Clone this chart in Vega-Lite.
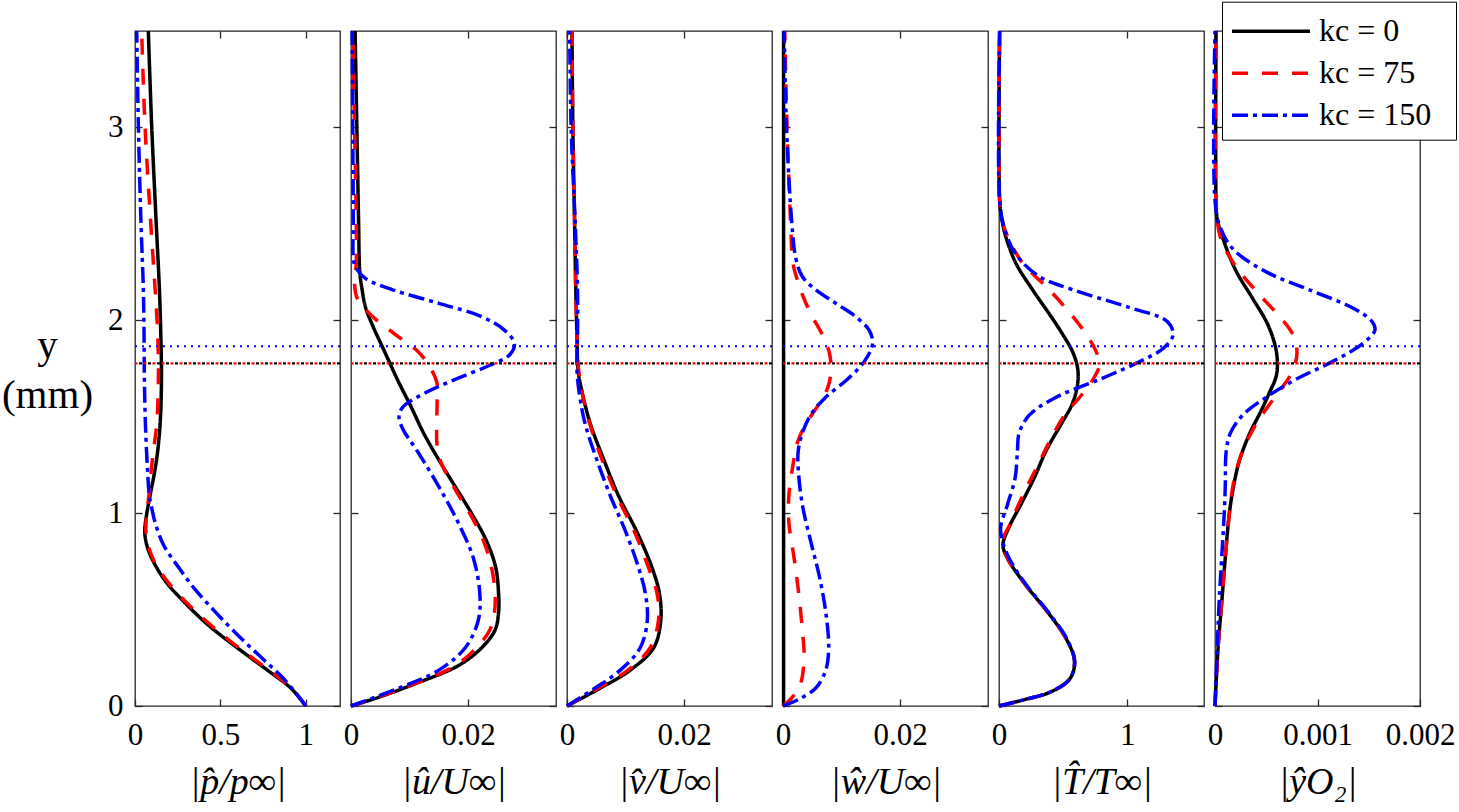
{
  "$schema": "https://vega.github.io/schema/vega-lite/v6.json",
  "padding": {"left": 0, "top": 0, "right": 0, "bottom": 0},
  "background": "white",
  "spacing": 11,
  "bounds": "flush",
  "resolve": {"scale": {"color": "independent", "strokeDash": "independent"}},
  "config": {
    "view": {"stroke": "#262626", "strokeWidth": 1.3},
    "font": "Liberation Serif",
    "axis": {
      "domain": false, "grid": false, "tickColor": "#262626", "tickSize": -7, "tickWidth": 1.3,
      "labelFont": "Liberation Serif", "labelFontSize": 31, "labelColor": "#000000",
      "labelFlush": false, "labelOverlap": false, "labelBound": false,
      "titleFont": "Liberation Serif", "titleFontSize": 38, "titleFontWeight": "normal", "titleColor": "#000000"
    }
  },
  "datasets": {
    "refs": [
      {"kc": "0", "yref": 1.777},
      {"kc": "75", "yref": 1.777},
      {"kc": "150", "yref": 1.865}
    ],
    "prof": [
      {"panel":"p","kc":"0","y":3.5,"v":0.078},{"panel":"p","kc":"0","y":3.0,"v":0.098},{"panel":"p","kc":"0","y":2.506,"v":0.124},{"panel":"p","kc":"0","y":2.158,"v":0.143},{"panel":"p","kc":"0","y":1.926,"v":0.151},{"panel":"p","kc":"0","y":1.694,"v":0.155},{"panel":"p","kc":"0","y":1.462,"v":0.147},{"panel":"p","kc":"0","y":1.323,"v":0.133},{"panel":"p","kc":"0","y":1.23,"v":0.118},{"panel":"p","kc":"0","y":1.09,"v":0.088},{"panel":"p","kc":"0","y":0.998,"v":0.069},{"panel":"p","kc":"0","y":0.905,"v":0.057},{"panel":"p","kc":"0","y":0.835,"v":0.069},{"panel":"p","kc":"0","y":0.766,"v":0.098},{"panel":"p","kc":"0","y":0.65,"v":0.176},{"panel":"p","kc":"0","y":0.534,"v":0.294},{"panel":"p","kc":"0","y":0.418,"v":0.431},{"panel":"p","kc":"0","y":0.302,"v":0.598},{"panel":"p","kc":"0","y":0.186,"v":0.775},{"panel":"p","kc":"0","y":0.093,"v":0.912},{"panel":"p","kc":"0","y":0,"v":1.0},
      {"panel":"p","kc":"75","y":3.5,"v":0.039},{"panel":"p","kc":"75","y":3.0,"v":0.059},{"panel":"p","kc":"75","y":2.506,"v":0.092},{"panel":"p","kc":"75","y":2.158,"v":0.118},{"panel":"p","kc":"75","y":1.926,"v":0.133},{"panel":"p","kc":"75","y":1.694,"v":0.137},{"panel":"p","kc":"75","y":1.462,"v":0.127},{"panel":"p","kc":"75","y":1.323,"v":0.108},{"panel":"p","kc":"75","y":1.23,"v":0.096},{"panel":"p","kc":"75","y":1.114,"v":0.084},{"panel":"p","kc":"75","y":1.044,"v":0.075},{"panel":"p","kc":"75","y":0.998,"v":0.068},{"panel":"p","kc":"75","y":0.882,"v":0.066},{"panel":"p","kc":"75","y":0.766,"v":0.104},{"panel":"p","kc":"75","y":0.65,"v":0.186},{"panel":"p","kc":"75","y":0.534,"v":0.304},{"panel":"p","kc":"75","y":0.418,"v":0.445},{"panel":"p","kc":"75","y":0.302,"v":0.608},{"panel":"p","kc":"75","y":0.186,"v":0.784},{"panel":"p","kc":"75","y":0.093,"v":0.915},{"panel":"p","kc":"75","y":0,"v":1.0},
      {"panel":"p","kc":"150","y":3.5,"v":0.01},{"panel":"p","kc":"150","y":3.0,"v":0.02},{"panel":"p","kc":"150","y":2.506,"v":0.035},{"panel":"p","kc":"150","y":2.158,"v":0.049},{"panel":"p","kc":"150","y":1.926,"v":0.053},{"panel":"p","kc":"150","y":1.694,"v":0.055},{"panel":"p","kc":"150","y":1.462,"v":0.061},{"panel":"p","kc":"150","y":1.23,"v":0.073},{"panel":"p","kc":"150","y":1.09,"v":0.084},{"panel":"p","kc":"150","y":1.044,"v":0.094},{"panel":"p","kc":"150","y":0.951,"v":0.118},{"panel":"p","kc":"150","y":0.835,"v":0.167},{"panel":"p","kc":"150","y":0.719,"v":0.255},{"panel":"p","kc":"150","y":0.603,"v":0.353},{"panel":"p","kc":"150","y":0.487,"v":0.471},{"panel":"p","kc":"150","y":0.371,"v":0.598},{"panel":"p","kc":"150","y":0.255,"v":0.735},{"panel":"p","kc":"150","y":0.139,"v":0.873},{"panel":"p","kc":"150","y":0,"v":1.0},

      {"panel":"u","kc":"0","y":3.5,"v":0.0007},{"panel":"u","kc":"0","y":3.0,"v":0.001},{"panel":"u","kc":"0","y":2.506,"v":0.0013},{"panel":"u","kc":"0","y":2.251,"v":0.0015},{"panel":"u","kc":"0","y":2.158,"v":0.0019},{"panel":"u","kc":"0","y":2.065,"v":0.0025},{"panel":"u","kc":"0","y":1.972,"v":0.0037},{"panel":"u","kc":"0","y":1.879,"v":0.0051},{"panel":"u","kc":"0","y":1.787,"v":0.0065},{"panel":"u","kc":"0","y":1.694,"v":0.0079},{"panel":"u","kc":"0","y":1.555,"v":0.0102},{"panel":"u","kc":"0","y":1.415,"v":0.0124},{"panel":"u","kc":"0","y":1.276,"v":0.015},{"panel":"u","kc":"0","y":1.137,"v":0.0178},{"panel":"u","kc":"0","y":0.998,"v":0.0206},{"panel":"u","kc":"0","y":0.858,"v":0.0231},{"panel":"u","kc":"0","y":0.719,"v":0.0247},{"panel":"u","kc":"0","y":0.58,"v":0.0252},{"panel":"u","kc":"0","y":0.487,"v":0.0252},{"panel":"u","kc":"0","y":0.394,"v":0.0246},{"panel":"u","kc":"0","y":0.302,"v":0.0223},{"panel":"u","kc":"0","y":0.209,"v":0.0183},{"panel":"u","kc":"0","y":0.116,"v":0.011},{"panel":"u","kc":"0","y":0.046,"v":0.0048},{"panel":"u","kc":"0","y":0,"v":0},
      {"panel":"u","kc":"75","y":3.5,"v":0.0003},{"panel":"u","kc":"75","y":3.0,"v":0.0006},{"panel":"u","kc":"75","y":2.506,"v":0.0009},{"panel":"u","kc":"75","y":2.297,"v":0.0009},{"panel":"u","kc":"75","y":2.204,"v":0.0006},{"panel":"u","kc":"75","y":2.111,"v":0.0011},{"panel":"u","kc":"75","y":2.019,"v":0.0037},{"panel":"u","kc":"75","y":1.926,"v":0.0076},{"panel":"u","kc":"75","y":1.833,"v":0.0116},{"panel":"u","kc":"75","y":1.74,"v":0.0138},{"panel":"u","kc":"75","y":1.671,"v":0.0147},{"panel":"u","kc":"75","y":1.578,"v":0.0147},{"panel":"u","kc":"75","y":1.346,"v":0.0147},{"panel":"u","kc":"75","y":1.276,"v":0.0152},{"panel":"u","kc":"75","y":1.137,"v":0.0175},{"panel":"u","kc":"75","y":0.998,"v":0.0203},{"panel":"u","kc":"75","y":0.858,"v":0.0226},{"panel":"u","kc":"75","y":0.719,"v":0.024},{"panel":"u","kc":"75","y":0.58,"v":0.0246},{"panel":"u","kc":"75","y":0.487,"v":0.0245},{"panel":"u","kc":"75","y":0.394,"v":0.0237},{"panel":"u","kc":"75","y":0.302,"v":0.0214},{"panel":"u","kc":"75","y":0.209,"v":0.0178},{"panel":"u","kc":"75","y":0.116,"v":0.011},{"panel":"u","kc":"75","y":0,"v":0},
      {"panel":"u","kc":"150","y":3.5,"v":0.0002},{"panel":"u","kc":"150","y":3.0,"v":0.0003},{"panel":"u","kc":"150","y":2.506,"v":0.0004},{"panel":"u","kc":"150","y":2.32,"v":0.0004},{"panel":"u","kc":"150","y":2.274,"v":0.0008},{"panel":"u","kc":"150","y":2.216,"v":0.0025},{"panel":"u","kc":"150","y":2.158,"v":0.0071},{"panel":"u","kc":"150","y":2.088,"v":0.015},{"panel":"u","kc":"150","y":2.019,"v":0.0223},{"panel":"u","kc":"150","y":1.949,"v":0.0262},{"panel":"u","kc":"150","y":1.879,"v":0.0279},{"panel":"u","kc":"150","y":1.821,"v":0.0271},{"panel":"u","kc":"150","y":1.763,"v":0.0234},{"panel":"u","kc":"150","y":1.694,"v":0.0178},{"panel":"u","kc":"150","y":1.624,"v":0.0127},{"panel":"u","kc":"150","y":1.555,"v":0.009},{"panel":"u","kc":"150","y":1.508,"v":0.0082},{"panel":"u","kc":"150","y":1.439,"v":0.0088},{"panel":"u","kc":"150","y":1.323,"v":0.0113},{"panel":"u","kc":"150","y":1.137,"v":0.015},{"panel":"u","kc":"150","y":0.951,"v":0.0183},{"panel":"u","kc":"150","y":0.766,"v":0.0209},{"panel":"u","kc":"150","y":0.58,"v":0.022},{"panel":"u","kc":"150","y":0.441,"v":0.0217},{"panel":"u","kc":"150","y":0.302,"v":0.0195},{"panel":"u","kc":"150","y":0.186,"v":0.015},{"panel":"u","kc":"150","y":0.093,"v":0.0082},{"panel":"u","kc":"150","y":0,"v":0},

      {"panel":"v","kc":"0","y":3.5,"v":0.00085},{"panel":"v","kc":"0","y":3.0,"v":0.001},{"panel":"v","kc":"0","y":2.506,"v":0.0013},{"panel":"v","kc":"0","y":2.158,"v":0.0015},{"panel":"v","kc":"0","y":1.926,"v":0.0017},{"panel":"v","kc":"0","y":1.74,"v":0.0019},{"panel":"v","kc":"0","y":1.624,"v":0.0026},{"panel":"v","kc":"0","y":1.462,"v":0.004},{"panel":"v","kc":"0","y":1.276,"v":0.0063},{"panel":"v","kc":"0","y":1.09,"v":0.0088},{"panel":"v","kc":"0","y":0.905,"v":0.0119},{"panel":"v","kc":"0","y":0.719,"v":0.0145},{"panel":"v","kc":"0","y":0.58,"v":0.0158},{"panel":"v","kc":"0","y":0.441,"v":0.016},{"panel":"v","kc":"0","y":0.302,"v":0.0148},{"panel":"v","kc":"0","y":0.186,"v":0.0108},{"panel":"v","kc":"0","y":0.093,"v":0.0057},{"panel":"v","kc":"0","y":0,"v":0},
      {"panel":"v","kc":"75","y":3.5,"v":0.00085},{"panel":"v","kc":"75","y":3.0,"v":0.001},{"panel":"v","kc":"75","y":2.506,"v":0.0013},{"panel":"v","kc":"75","y":2.158,"v":0.0015},{"panel":"v","kc":"75","y":1.926,"v":0.0017},{"panel":"v","kc":"75","y":1.74,"v":0.002},{"panel":"v","kc":"75","y":1.624,"v":0.0026},{"panel":"v","kc":"75","y":1.462,"v":0.0039},{"panel":"v","kc":"75","y":1.276,"v":0.006},{"panel":"v","kc":"75","y":1.09,"v":0.0085},{"panel":"v","kc":"75","y":0.905,"v":0.0115},{"panel":"v","kc":"75","y":0.719,"v":0.0139},{"panel":"v","kc":"75","y":0.58,"v":0.0154},{"panel":"v","kc":"75","y":0.441,"v":0.0156},{"panel":"v","kc":"75","y":0.302,"v":0.0142},{"panel":"v","kc":"75","y":0.186,"v":0.0104},{"panel":"v","kc":"75","y":0.093,"v":0.0054},{"panel":"v","kc":"75","y":0,"v":0},
      {"panel":"v","kc":"150","y":3.5,"v":0.00046},{"panel":"v","kc":"150","y":3.0,"v":0.0007},{"panel":"v","kc":"150","y":2.506,"v":0.0014},{"panel":"v","kc":"150","y":2.158,"v":0.0018},{"panel":"v","kc":"150","y":1.926,"v":0.0018},{"panel":"v","kc":"150","y":1.74,"v":0.0017},{"panel":"v","kc":"150","y":1.601,"v":0.0022},{"panel":"v","kc":"150","y":1.462,"v":0.0031},{"panel":"v","kc":"150","y":1.276,"v":0.0051},{"panel":"v","kc":"150","y":1.09,"v":0.0074},{"panel":"v","kc":"150","y":0.905,"v":0.01},{"panel":"v","kc":"150","y":0.719,"v":0.0122},{"panel":"v","kc":"150","y":0.58,"v":0.0134},{"panel":"v","kc":"150","y":0.441,"v":0.0137},{"panel":"v","kc":"150","y":0.302,"v":0.0125},{"panel":"v","kc":"150","y":0.186,"v":0.0091},{"panel":"v","kc":"150","y":0.093,"v":0.0048},{"panel":"v","kc":"150","y":0,"v":0},

      {"panel":"w","kc":"0","y":3.5,"v":0.0001},{"panel":"w","kc":"0","y":1.9,"v":0.0001},{"panel":"w","kc":"0","y":0,"v":0.0001},
      {"panel":"w","kc":"75","y":3.5,"v":0.0003},{"panel":"w","kc":"75","y":3.0,"v":0.0007},{"panel":"w","kc":"75","y":2.506,"v":0.0013},{"panel":"w","kc":"75","y":2.297,"v":0.0017},{"panel":"w","kc":"75","y":2.204,"v":0.0025},{"panel":"w","kc":"75","y":2.111,"v":0.0036},{"panel":"w","kc":"75","y":2.019,"v":0.005},{"panel":"w","kc":"75","y":1.926,"v":0.0067},{"panel":"w","kc":"75","y":1.833,"v":0.0079},{"panel":"w","kc":"75","y":1.74,"v":0.0082},{"panel":"w","kc":"75","y":1.647,"v":0.0076},{"panel":"w","kc":"75","y":1.555,"v":0.0059},{"panel":"w","kc":"75","y":1.462,"v":0.0039},{"panel":"w","kc":"75","y":1.369,"v":0.0025},{"panel":"w","kc":"75","y":1.23,"v":0.0016},{"panel":"w","kc":"75","y":1.09,"v":0.001},{"panel":"w","kc":"75","y":0.951,"v":0.001},{"panel":"w","kc":"75","y":0.766,"v":0.0019},{"panel":"w","kc":"75","y":0.58,"v":0.0027},{"panel":"w","kc":"75","y":0.394,"v":0.0033},{"panel":"w","kc":"75","y":0.255,"v":0.0036},{"panel":"w","kc":"75","y":0.116,"v":0.003},{"panel":"w","kc":"75","y":0.046,"v":0.0016},{"panel":"w","kc":"75","y":0,"v":0},
      {"panel":"w","kc":"150","y":3.5,"v":0.0002},{"panel":"w","kc":"150","y":3.0,"v":0.0006},{"panel":"w","kc":"150","y":2.506,"v":0.0015},{"panel":"w","kc":"150","y":2.32,"v":0.0022},{"panel":"w","kc":"150","y":2.227,"v":0.0033},{"panel":"w","kc":"150","y":2.158,"v":0.0056},{"panel":"w","kc":"150","y":2.088,"v":0.009},{"panel":"w","kc":"150","y":2.019,"v":0.0124},{"panel":"w","kc":"150","y":1.949,"v":0.0147},{"panel":"w","kc":"150","y":1.879,"v":0.0153},{"panel":"w","kc":"150","y":1.787,"v":0.0139},{"panel":"w","kc":"150","y":1.694,"v":0.011},{"panel":"w","kc":"150","y":1.601,"v":0.0073},{"panel":"w","kc":"150","y":1.508,"v":0.0047},{"panel":"w","kc":"150","y":1.415,"v":0.0033},{"panel":"w","kc":"150","y":1.323,"v":0.0026},{"panel":"w","kc":"150","y":1.23,"v":0.0026},{"panel":"w","kc":"150","y":1.044,"v":0.0033},{"panel":"w","kc":"150","y":0.858,"v":0.0047},{"panel":"w","kc":"150","y":0.673,"v":0.0062},{"panel":"w","kc":"150","y":0.487,"v":0.0073},{"panel":"w","kc":"150","y":0.302,"v":0.0078},{"panel":"w","kc":"150","y":0.186,"v":0.0073},{"panel":"w","kc":"150","y":0.093,"v":0.0056},{"panel":"w","kc":"150","y":0.035,"v":0.0027},{"panel":"w","kc":"150","y":0,"v":0},

      {"panel":"T","kc":"0","y":3.5,"v":0.005},{"panel":"T","kc":"0","y":2.622,"v":0.005},{"panel":"T","kc":"0","y":2.529,"v":0.021},{"panel":"T","kc":"0","y":2.436,"v":0.052},{"panel":"T","kc":"0","y":2.297,"v":0.131},{"panel":"T","kc":"0","y":2.158,"v":0.262},{"panel":"T","kc":"0","y":2.019,"v":0.407},{"panel":"T","kc":"0","y":1.926,"v":0.498},{"panel":"T","kc":"0","y":1.833,"v":0.577},{"panel":"T","kc":"0","y":1.74,"v":0.616},{"panel":"T","kc":"0","y":1.647,"v":0.608},{"panel":"T","kc":"0","y":1.555,"v":0.564},{"panel":"T","kc":"0","y":1.462,"v":0.485},{"panel":"T","kc":"0","y":1.323,"v":0.367},{"panel":"T","kc":"0","y":1.183,"v":0.275},{"panel":"T","kc":"0","y":1.044,"v":0.17},{"panel":"T","kc":"0","y":0.928,"v":0.079},{"panel":"T","kc":"0","y":0.835,"v":0.031},{"panel":"T","kc":"0","y":0.766,"v":0.066},{"panel":"T","kc":"0","y":0.626,"v":0.21},{"panel":"T","kc":"0","y":0.487,"v":0.38},{"panel":"T","kc":"0","y":0.348,"v":0.525},{"panel":"T","kc":"0","y":0.232,"v":0.59},{"panel":"T","kc":"0","y":0.139,"v":0.551},{"panel":"T","kc":"0","y":0.07,"v":0.393},{"panel":"T","kc":"0","y":0.035,"v":0.21},{"panel":"T","kc":"0","y":0,"v":0},
      {"panel":"T","kc":"75","y":3.5,"v":0.005},{"panel":"T","kc":"75","y":2.622,"v":0.005},{"panel":"T","kc":"75","y":2.529,"v":0.021},{"panel":"T","kc":"75","y":2.436,"v":0.066},{"panel":"T","kc":"75","y":2.297,"v":0.184},{"panel":"T","kc":"75","y":2.158,"v":0.393},{"panel":"T","kc":"75","y":2.019,"v":0.577},{"panel":"T","kc":"75","y":1.926,"v":0.682},{"panel":"T","kc":"75","y":1.833,"v":0.761},{"panel":"T","kc":"75","y":1.763,"v":0.782},{"panel":"T","kc":"75","y":1.694,"v":0.734},{"panel":"T","kc":"75","y":1.601,"v":0.63},{"panel":"T","kc":"75","y":1.508,"v":0.511},{"panel":"T","kc":"75","y":1.369,"v":0.393},{"panel":"T","kc":"75","y":1.23,"v":0.289},{"panel":"T","kc":"75","y":1.09,"v":0.184},{"panel":"T","kc":"75","y":0.951,"v":0.092},{"panel":"T","kc":"75","y":0.858,"v":0.031},{"panel":"T","kc":"75","y":0.766,"v":0.066},{"panel":"T","kc":"75","y":0.626,"v":0.21},{"panel":"T","kc":"75","y":0.487,"v":0.38},{"panel":"T","kc":"75","y":0.348,"v":0.525},{"panel":"T","kc":"75","y":0.232,"v":0.59},{"panel":"T","kc":"75","y":0.139,"v":0.551},{"panel":"T","kc":"75","y":0.07,"v":0.393},{"panel":"T","kc":"75","y":0.035,"v":0.21},{"panel":"T","kc":"75","y":0,"v":0},
      {"panel":"T","kc":"150","y":3.5,"v":0.005},{"panel":"T","kc":"150","y":2.622,"v":0.005},{"panel":"T","kc":"150","y":2.483,"v":0.039},{"panel":"T","kc":"150","y":2.343,"v":0.131},{"panel":"T","kc":"150","y":2.227,"v":0.315},{"panel":"T","kc":"150","y":2.158,"v":0.577},{"panel":"T","kc":"150","y":2.065,"v":1.023},{"panel":"T","kc":"150","y":1.995,"v":1.311},{"panel":"T","kc":"150","y":1.926,"v":1.359},{"panel":"T","kc":"150","y":1.856,"v":1.285},{"panel":"T","kc":"150","y":1.787,"v":1.102},{"panel":"T","kc":"150","y":1.694,"v":0.787},{"panel":"T","kc":"150","y":1.601,"v":0.446},{"panel":"T","kc":"150","y":1.508,"v":0.236},{"panel":"T","kc":"150","y":1.415,"v":0.157},{"panel":"T","kc":"150","y":1.323,"v":0.144},{"panel":"T","kc":"150","y":1.183,"v":0.126},{"panel":"T","kc":"150","y":1.044,"v":0.066},{"panel":"T","kc":"150","y":0.928,"v":0.013},{"panel":"T","kc":"150","y":0.858,"v":0.026},{"panel":"T","kc":"150","y":0.766,"v":0.079},{"panel":"T","kc":"150","y":0.626,"v":0.215},{"panel":"T","kc":"150","y":0.487,"v":0.385},{"panel":"T","kc":"150","y":0.348,"v":0.53},{"panel":"T","kc":"150","y":0.232,"v":0.59},{"panel":"T","kc":"150","y":0.139,"v":0.55},{"panel":"T","kc":"150","y":0.07,"v":0.393},{"panel":"T","kc":"150","y":0.035,"v":0.21},{"panel":"T","kc":"150","y":0,"v":0},

      {"panel":"o","kc":"0","y":3.5,"v":0.00001},{"panel":"o","kc":"0","y":2.622,"v":0.00001},{"panel":"o","kc":"0","y":2.529,"v":0.00002},{"panel":"o","kc":"0","y":2.39,"v":0.0001},{"panel":"o","kc":"0","y":2.251,"v":0.00021},{"panel":"o","kc":"0","y":2.111,"v":0.00037},{"panel":"o","kc":"0","y":1.972,"v":0.00052},{"panel":"o","kc":"0","y":1.833,"v":0.0006},{"panel":"o","kc":"0","y":1.717,"v":0.0006},{"panel":"o","kc":"0","y":1.624,"v":0.00053},{"panel":"o","kc":"0","y":1.531,"v":0.00045},{"panel":"o","kc":"0","y":1.415,"v":0.00034},{"panel":"o","kc":"0","y":1.276,"v":0.00024},{"panel":"o","kc":"0","y":1.137,"v":0.00018},{"panel":"o","kc":"0","y":0.998,"v":0.00014},{"panel":"o","kc":"0","y":0.766,"v":0.0001},{"panel":"o","kc":"0","y":0.534,"v":0.000065},{"panel":"o","kc":"0","y":0.302,"v":0.00003},{"panel":"o","kc":"0","y":0,"v":0},
      {"panel":"o","kc":"75","y":3.5,"v":0.00001},{"panel":"o","kc":"75","y":2.622,"v":0.00001},{"panel":"o","kc":"75","y":2.436,"v":0.00005},{"panel":"o","kc":"75","y":2.297,"v":0.00018},{"panel":"o","kc":"75","y":2.158,"v":0.00039},{"panel":"o","kc":"75","y":2.019,"v":0.00063},{"panel":"o","kc":"75","y":1.926,"v":0.00076},{"panel":"o","kc":"75","y":1.833,"v":0.0008},{"panel":"o","kc":"75","y":1.74,"v":0.00076},{"panel":"o","kc":"75","y":1.647,"v":0.00065},{"panel":"o","kc":"75","y":1.555,"v":0.00052},{"panel":"o","kc":"75","y":1.462,"v":0.0004},{"panel":"o","kc":"75","y":1.323,"v":0.00027},{"panel":"o","kc":"75","y":1.183,"v":0.00019},{"panel":"o","kc":"75","y":0.998,"v":0.00014},{"panel":"o","kc":"75","y":0.766,"v":0.0001},{"panel":"o","kc":"75","y":0.534,"v":0.000065},{"panel":"o","kc":"75","y":0.302,"v":0.00003},{"panel":"o","kc":"75","y":0,"v":0},
      {"panel":"o","kc":"150","y":3.5,"v":0.0},{"panel":"o","kc":"150","y":2.622,"v":0.0},{"panel":"o","kc":"150","y":2.483,"v":0.00005},{"panel":"o","kc":"150","y":2.367,"v":0.00018},{"panel":"o","kc":"150","y":2.251,"v":0.0005},{"panel":"o","kc":"150","y":2.158,"v":0.00092},{"panel":"o","kc":"150","y":2.065,"v":0.00134},{"panel":"o","kc":"150","y":1.995,"v":0.00153},{"panel":"o","kc":"150","y":1.949,"v":0.00156},{"panel":"o","kc":"150","y":1.879,"v":0.00144},{"panel":"o","kc":"150","y":1.787,"v":0.00115},{"panel":"o","kc":"150","y":1.694,"v":0.00079},{"panel":"o","kc":"150","y":1.601,"v":0.0005},{"panel":"o","kc":"150","y":1.508,"v":0.00027},{"panel":"o","kc":"150","y":1.415,"v":0.00015},{"panel":"o","kc":"150","y":1.323,"v":0.00011},{"panel":"o","kc":"150","y":1.137,"v":0.0001},{"panel":"o","kc":"150","y":0.998,"v":0.00009},{"panel":"o","kc":"150","y":0.766,"v":0.000065},{"panel":"o","kc":"150","y":0.534,"v":0.00004},{"panel":"o","kc":"150","y":0,"v":0}
    ]
  },
  "hconcat": [
    {
      "width": 205, "height": 675,
      "resolve": {"axis": {"x": "independent", "y": "independent"}},
      "layer": [
        {"data": {"name": "prof"}, "transform": [{"filter": "datum.panel === 'p' && datum.kc === '0'"}],
         "mark": {"type": "line", "strokeWidth": 3.5, "interpolate": "catmull-rom"},
         "encoding": {
           "x": {"field": "v", "type": "quantitative", "scale": {"domain": [0, 1.2], "nice": false}, "axis": {"orient": "bottom", "values": [0, 0.5, 1], "format": "~g", "labelPadding": 21, "title": "|p\u0302/p\u221e|", "titlePadding": 13, "titleFontStyle": "italic"}},
           "y": {"field": "y", "type": "quantitative", "scale": {"domain": [0, 3.5], "nice": false}, "axis": {"orient": "left", "values": [0, 1, 2, 3], "format": "~g", "labelPadding": 19, "title": ["y", "(mm)"], "titleAngle": 0, "titleX": -88, "titleY": 326, "titleAlign": "center", "titleBaseline": "alphabetic", "titleFontSize": 41, "titleLineHeight": 50}},
           "order": {"field": "y", "type": "quantitative"},
           "color": {"field": "kc", "type": "nominal", "scale": {"domain": ["0", "75", "150"], "range": ["#000000", "#ff0000", "#0000ff"]}, "legend": null},
           "strokeDash": {"field": "kc", "type": "nominal", "scale": {"domain": ["0", "75", "150"], "range": [[1, 0], [16, 14], [16, 5, 4, 5]]}, "legend": null}
         }},
        {"data": {"name": "prof"}, "transform": [{"filter": "datum.panel === 'p' && datum.kc !== '0'"}],
         "mark": {"type": "line", "strokeWidth": 3.5, "interpolate": "catmull-rom"},
         "encoding": {
           "x": {"field": "v", "type": "quantitative", "axis": {"orient": "top", "values": [0, 0.5, 1], "labels": false, "title": null}},
           "y": {"field": "y", "type": "quantitative", "axis": {"orient": "right", "values": [0, 1, 2, 3], "labels": false, "title": null}},
           "order": {"field": "y", "type": "quantitative"},
           "color": {"field": "kc", "type": "nominal", "legend": null},
           "strokeDash": {"field": "kc", "type": "nominal", "legend": null}
         }},
        {"data": {"name": "refs"}, "transform": [{"filter": "datum.kc === '0'"}],
         "mark": {"type": "rule", "color": "#000000", "strokeWidth": 2.2, "strokeDash": [3, 6]},
         "encoding": {"y": {"field": "yref", "type": "quantitative", "axis": null}}},
        {"data": {"name": "refs"}, "transform": [{"filter": "datum.kc === '75'"}],
         "mark": {"type": "rule", "color": "#ff0000", "strokeWidth": 2.2, "strokeDash": [3, 6], "strokeDashOffset": 4.5},
         "encoding": {"y": {"field": "yref", "type": "quantitative", "axis": null}}},
        {"data": {"name": "refs"}, "transform": [{"filter": "datum.kc === '150'"}],
         "mark": {"type": "rule", "color": "#0000ff", "strokeWidth": 2, "strokeDash": [2, 5]},
         "encoding": {"y": {"field": "yref", "type": "quantitative", "axis": null}}}
      ]
    },
    {
      "width": 205, "height": 675,
      "resolve": {"axis": {"x": "independent", "y": "independent"}},
      "layer": [
        {"data": {"name": "prof"}, "transform": [{"filter": "datum.panel === 'u' && datum.kc === '0'"}],
         "mark": {"type": "line", "strokeWidth": 3.5, "interpolate": "catmull-rom"},
         "encoding": {
           "x": {"field": "v", "type": "quantitative", "scale": {"domain": [0, 0.035], "nice": false}, "axis": {"orient": "bottom", "values": [0, 0.02], "format": "~g", "labelPadding": 21, "title": "|\u00fb/U\u221e|", "titlePadding": 13, "titleFontStyle": "italic"}},
           "y": {"field": "y", "type": "quantitative", "scale": {"domain": [0, 3.5], "nice": false}, "axis": {"orient": "left", "values": [0, 1, 2, 3], "labels": false, "title": null}},
           "order": {"field": "y", "type": "quantitative"},
           "color": {"field": "kc", "type": "nominal", "scale": {"domain": ["0", "75", "150"], "range": ["#000000", "#ff0000", "#0000ff"]}, "legend": null},
           "strokeDash": {"field": "kc", "type": "nominal", "scale": {"domain": ["0", "75", "150"], "range": [[1, 0], [16, 14], [16, 5, 4, 5]]}, "legend": null}
         }},
        {"data": {"name": "prof"}, "transform": [{"filter": "datum.panel === 'u' && datum.kc !== '0'"}],
         "mark": {"type": "line", "strokeWidth": 3.5, "interpolate": "catmull-rom"},
         "encoding": {
           "x": {"field": "v", "type": "quantitative", "axis": {"orient": "top", "values": [0, 0.02], "labels": false, "title": null}},
           "y": {"field": "y", "type": "quantitative", "axis": {"orient": "right", "values": [0, 1, 2, 3], "labels": false, "title": null}},
           "order": {"field": "y", "type": "quantitative"},
           "color": {"field": "kc", "type": "nominal", "legend": null},
           "strokeDash": {"field": "kc", "type": "nominal", "legend": null}
         }},
        {"data": {"name": "refs"}, "transform": [{"filter": "datum.kc === '0'"}],
         "mark": {"type": "rule", "color": "#000000", "strokeWidth": 2.2, "strokeDash": [3, 6]},
         "encoding": {"y": {"field": "yref", "type": "quantitative", "axis": null}}},
        {"data": {"name": "refs"}, "transform": [{"filter": "datum.kc === '75'"}],
         "mark": {"type": "rule", "color": "#ff0000", "strokeWidth": 2.2, "strokeDash": [3, 6], "strokeDashOffset": 4.5},
         "encoding": {"y": {"field": "yref", "type": "quantitative", "axis": null}}},
        {"data": {"name": "refs"}, "transform": [{"filter": "datum.kc === '150'"}],
         "mark": {"type": "rule", "color": "#0000ff", "strokeWidth": 2, "strokeDash": [2, 5]},
         "encoding": {"y": {"field": "yref", "type": "quantitative", "axis": null}}}
      ]
    },
    {
      "width": 205, "height": 675,
      "resolve": {"axis": {"x": "independent", "y": "independent"}},
      "layer": [
        {"data": {"name": "prof"}, "transform": [{"filter": "datum.panel === 'v' && datum.kc === '0'"}],
         "mark": {"type": "line", "strokeWidth": 3.5, "interpolate": "catmull-rom"},
         "encoding": {
           "x": {"field": "v", "type": "quantitative", "scale": {"domain": [0, 0.035], "nice": false}, "axis": {"orient": "bottom", "values": [0, 0.02], "format": "~g", "labelPadding": 21, "title": "|v\u0302/U\u221e|", "titlePadding": 13, "titleFontStyle": "italic"}},
           "y": {"field": "y", "type": "quantitative", "scale": {"domain": [0, 3.5], "nice": false}, "axis": {"orient": "left", "values": [0, 1, 2, 3], "labels": false, "title": null}},
           "order": {"field": "y", "type": "quantitative"},
           "color": {"field": "kc", "type": "nominal", "scale": {"domain": ["0", "75", "150"], "range": ["#000000", "#ff0000", "#0000ff"]}, "legend": null},
           "strokeDash": {"field": "kc", "type": "nominal", "scale": {"domain": ["0", "75", "150"], "range": [[1, 0], [16, 14], [16, 5, 4, 5]]}, "legend": null}
         }},
        {"data": {"name": "prof"}, "transform": [{"filter": "datum.panel === 'v' && datum.kc !== '0'"}],
         "mark": {"type": "line", "strokeWidth": 3.5, "interpolate": "catmull-rom"},
         "encoding": {
           "x": {"field": "v", "type": "quantitative", "axis": {"orient": "top", "values": [0, 0.02], "labels": false, "title": null}},
           "y": {"field": "y", "type": "quantitative", "axis": {"orient": "right", "values": [0, 1, 2, 3], "labels": false, "title": null}},
           "order": {"field": "y", "type": "quantitative"},
           "color": {"field": "kc", "type": "nominal", "legend": null},
           "strokeDash": {"field": "kc", "type": "nominal", "legend": null}
         }},
        {"data": {"name": "refs"}, "transform": [{"filter": "datum.kc === '0'"}],
         "mark": {"type": "rule", "color": "#000000", "strokeWidth": 2.2, "strokeDash": [3, 6]},
         "encoding": {"y": {"field": "yref", "type": "quantitative", "axis": null}}},
        {"data": {"name": "refs"}, "transform": [{"filter": "datum.kc === '75'"}],
         "mark": {"type": "rule", "color": "#ff0000", "strokeWidth": 2.2, "strokeDash": [3, 6], "strokeDashOffset": 4.5},
         "encoding": {"y": {"field": "yref", "type": "quantitative", "axis": null}}},
        {"data": {"name": "refs"}, "transform": [{"filter": "datum.kc === '150'"}],
         "mark": {"type": "rule", "color": "#0000ff", "strokeWidth": 2, "strokeDash": [2, 5]},
         "encoding": {"y": {"field": "yref", "type": "quantitative", "axis": null}}}
      ]
    },
    {
      "width": 205, "height": 675,
      "resolve": {"axis": {"x": "independent", "y": "independent"}},
      "layer": [
        {"data": {"name": "prof"}, "transform": [{"filter": "datum.panel === 'w' && datum.kc === '0'"}],
         "mark": {"type": "line", "strokeWidth": 3.5, "interpolate": "catmull-rom"},
         "encoding": {
           "x": {"field": "v", "type": "quantitative", "scale": {"domain": [0, 0.035], "nice": false}, "axis": {"orient": "bottom", "values": [0, 0.02], "format": "~g", "labelPadding": 21, "title": "|\u0175/U\u221e|", "titlePadding": 13, "titleFontStyle": "italic"}},
           "y": {"field": "y", "type": "quantitative", "scale": {"domain": [0, 3.5], "nice": false}, "axis": {"orient": "left", "values": [0, 1, 2, 3], "labels": false, "title": null}},
           "order": {"field": "y", "type": "quantitative"},
           "color": {"field": "kc", "type": "nominal", "scale": {"domain": ["0", "75", "150"], "range": ["#000000", "#ff0000", "#0000ff"]}, "legend": null},
           "strokeDash": {"field": "kc", "type": "nominal", "scale": {"domain": ["0", "75", "150"], "range": [[1, 0], [16, 14], [16, 5, 4, 5]]}, "legend": null}
         }},
        {"data": {"name": "prof"}, "transform": [{"filter": "datum.panel === 'w' && datum.kc !== '0'"}],
         "mark": {"type": "line", "strokeWidth": 3.5, "interpolate": "catmull-rom"},
         "encoding": {
           "x": {"field": "v", "type": "quantitative", "axis": {"orient": "top", "values": [0, 0.02], "labels": false, "title": null}},
           "y": {"field": "y", "type": "quantitative", "axis": {"orient": "right", "values": [0, 1, 2, 3], "labels": false, "title": null}},
           "order": {"field": "y", "type": "quantitative"},
           "color": {"field": "kc", "type": "nominal", "legend": null},
           "strokeDash": {"field": "kc", "type": "nominal", "legend": null}
         }},
        {"data": {"name": "refs"}, "transform": [{"filter": "datum.kc === '0'"}],
         "mark": {"type": "rule", "color": "#000000", "strokeWidth": 2.2, "strokeDash": [3, 6]},
         "encoding": {"y": {"field": "yref", "type": "quantitative", "axis": null}}},
        {"data": {"name": "refs"}, "transform": [{"filter": "datum.kc === '75'"}],
         "mark": {"type": "rule", "color": "#ff0000", "strokeWidth": 2.2, "strokeDash": [3, 6], "strokeDashOffset": 4.5},
         "encoding": {"y": {"field": "yref", "type": "quantitative", "axis": null}}},
        {"data": {"name": "refs"}, "transform": [{"filter": "datum.kc === '150'"}],
         "mark": {"type": "rule", "color": "#0000ff", "strokeWidth": 2, "strokeDash": [2, 5]},
         "encoding": {"y": {"field": "yref", "type": "quantitative", "axis": null}}}
      ]
    },
    {
      "width": 205, "height": 675,
      "resolve": {"axis": {"x": "independent", "y": "independent"}},
      "layer": [
        {"data": {"name": "prof"}, "transform": [{"filter": "datum.panel === 'T' && datum.kc === '0'"}],
         "mark": {"type": "line", "strokeWidth": 3.5, "interpolate": "catmull-rom"},
         "encoding": {
           "x": {"field": "v", "type": "quantitative", "scale": {"domain": [0, 1.6], "nice": false}, "axis": {"orient": "bottom", "values": [0, 1], "format": "~g", "labelPadding": 21, "title": "|T\u0302/T\u221e|", "titlePadding": 13, "titleFontStyle": "italic"}},
           "y": {"field": "y", "type": "quantitative", "scale": {"domain": [0, 3.5], "nice": false}, "axis": {"orient": "left", "values": [0, 1, 2, 3], "labels": false, "title": null}},
           "order": {"field": "y", "type": "quantitative"},
           "color": {"field": "kc", "type": "nominal", "scale": {"domain": ["0", "75", "150"], "range": ["#000000", "#ff0000", "#0000ff"]}, "legend": null},
           "strokeDash": {"field": "kc", "type": "nominal", "scale": {"domain": ["0", "75", "150"], "range": [[1, 0], [16, 14], [16, 5, 4, 5]]}, "legend": null}
         }},
        {"data": {"name": "prof"}, "transform": [{"filter": "datum.panel === 'T' && datum.kc !== '0'"}],
         "mark": {"type": "line", "strokeWidth": 3.5, "interpolate": "catmull-rom"},
         "encoding": {
           "x": {"field": "v", "type": "quantitative", "axis": {"orient": "top", "values": [0, 1], "labels": false, "title": null}},
           "y": {"field": "y", "type": "quantitative", "axis": {"orient": "right", "values": [0, 1, 2, 3], "labels": false, "title": null}},
           "order": {"field": "y", "type": "quantitative"},
           "color": {"field": "kc", "type": "nominal", "legend": null},
           "strokeDash": {"field": "kc", "type": "nominal", "legend": null}
         }},
        {"data": {"name": "refs"}, "transform": [{"filter": "datum.kc === '0'"}],
         "mark": {"type": "rule", "color": "#000000", "strokeWidth": 2.2, "strokeDash": [3, 6]},
         "encoding": {"y": {"field": "yref", "type": "quantitative", "axis": null}}},
        {"data": {"name": "refs"}, "transform": [{"filter": "datum.kc === '75'"}],
         "mark": {"type": "rule", "color": "#ff0000", "strokeWidth": 2.2, "strokeDash": [3, 6], "strokeDashOffset": 4.5},
         "encoding": {"y": {"field": "yref", "type": "quantitative", "axis": null}}},
        {"data": {"name": "refs"}, "transform": [{"filter": "datum.kc === '150'"}],
         "mark": {"type": "rule", "color": "#0000ff", "strokeWidth": 2, "strokeDash": [2, 5]},
         "encoding": {"y": {"field": "yref", "type": "quantitative", "axis": null}}}
      ]
    },
    {
      "width": 205, "height": 675,
      "resolve": {"axis": {"x": "independent", "y": "independent"}},
      "layer": [
        {"data": {"name": "prof"}, "transform": [{"filter": "datum.panel === 'o' && datum.kc === '0'"}],
         "mark": {"type": "line", "strokeWidth": 3.5, "interpolate": "catmull-rom"},
         "encoding": {
           "x": {"field": "v", "type": "quantitative", "scale": {"domain": [0, 0.002], "nice": false}, "axis": {"orient": "bottom", "values": [0, 0.001, 0.002], "format": "~g", "labelPadding": 21, "title": "|\u0177O\u2082|", "titlePadding": 13, "titleFontStyle": "italic"}},
           "y": {"field": "y", "type": "quantitative", "scale": {"domain": [0, 3.5], "nice": false}, "axis": {"orient": "left", "values": [0, 1, 2, 3], "labels": false, "title": null}},
           "order": {"field": "y", "type": "quantitative"},
           "color": {"field": "kc", "type": "nominal", "scale": {"domain": ["0", "75", "150"], "range": ["#000000", "#ff0000", "#0000ff"]},
             "legend": {"orient": "none", "legendX": 7, "legendY": -29.3, "title": null, "symbolType": "M-1,0H3", "symbolSize": 1521, "symbolStrokeWidth": 3.5, "labelFont": "Liberation Serif", "labelFontSize": 32, "labelColor": "#000000", "labelExpr": "'kc  =  ' + datum.label", "strokeColor": "#000000", "fillColor": "#ffffff", "padding": 8, "rowPadding": 4, "labelOffset": 46, "labelLimit": 400}},
           "strokeDash": {"field": "kc", "type": "nominal", "scale": {"domain": ["0", "75", "150"], "range": [[1, 0], [16, 14], [16, 5, 4, 5]]},
             "legend": {"orient": "none", "legendX": 7, "legendY": -29.3, "title": null, "symbolType": "M-1,0H3", "symbolSize": 1521, "symbolStrokeWidth": 3.5, "labelFont": "Liberation Serif", "labelFontSize": 32, "labelColor": "#000000", "labelExpr": "'kc  =  ' + datum.label", "strokeColor": "#000000", "fillColor": "#ffffff", "padding": 8, "rowPadding": 4, "labelOffset": 46, "labelLimit": 400}}
         }},
        {"data": {"name": "prof"}, "transform": [{"filter": "datum.panel === 'o' && datum.kc !== '0'"}],
         "mark": {"type": "line", "strokeWidth": 3.5, "interpolate": "catmull-rom"},
         "encoding": {
           "x": {"field": "v", "type": "quantitative", "axis": {"orient": "top", "values": [0, 0.001, 0.002], "labels": false, "title": null}},
           "y": {"field": "y", "type": "quantitative", "axis": {"orient": "right", "values": [0, 1, 2, 3], "labels": false, "title": null}},
           "order": {"field": "y", "type": "quantitative"},
           "color": {"field": "kc", "type": "nominal",
             "legend": {"orient": "none", "legendX": 7, "legendY": -29.3, "title": null, "symbolType": "M-1,0H3", "symbolSize": 1521, "symbolStrokeWidth": 3.5, "labelFont": "Liberation Serif", "labelFontSize": 32, "labelColor": "#000000", "labelExpr": "'kc  =  ' + datum.label", "strokeColor": "#000000", "fillColor": "#ffffff", "padding": 8, "rowPadding": 4, "labelOffset": 46, "labelLimit": 400}},
           "strokeDash": {"field": "kc", "type": "nominal",
             "legend": {"orient": "none", "legendX": 7, "legendY": -29.3, "title": null, "symbolType": "M-1,0H3", "symbolSize": 1521, "symbolStrokeWidth": 3.5, "labelFont": "Liberation Serif", "labelFontSize": 32, "labelColor": "#000000", "labelExpr": "'kc  =  ' + datum.label", "strokeColor": "#000000", "fillColor": "#ffffff", "padding": 8, "rowPadding": 4, "labelOffset": 46, "labelLimit": 400}}
         }},
        {"data": {"name": "refs"}, "transform": [{"filter": "datum.kc === '0'"}],
         "mark": {"type": "rule", "color": "#000000", "strokeWidth": 2.2, "strokeDash": [3, 6]},
         "encoding": {"y": {"field": "yref", "type": "quantitative", "axis": null}}},
        {"data": {"name": "refs"}, "transform": [{"filter": "datum.kc === '75'"}],
         "mark": {"type": "rule", "color": "#ff0000", "strokeWidth": 2.2, "strokeDash": [3, 6], "strokeDashOffset": 4.5},
         "encoding": {"y": {"field": "yref", "type": "quantitative", "axis": null}}},
        {"data": {"name": "refs"}, "transform": [{"filter": "datum.kc === '150'"}],
         "mark": {"type": "rule", "color": "#0000ff", "strokeWidth": 2, "strokeDash": [2, 5]},
         "encoding": {"y": {"field": "yref", "type": "quantitative", "axis": null}}}
      ]
    }
  ]
}
